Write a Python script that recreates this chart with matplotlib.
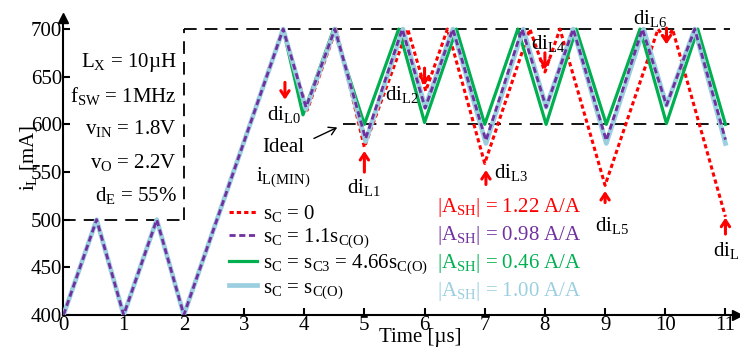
import numpy as np
import matplotlib.pyplot as plt

plt.rcParams['font.family'] = ['Liberation Serif', 'DejaVu Serif']
plt.rcParams['mathtext.fontset'] = 'custom'
plt.rcParams['mathtext.rm'] = 'Liberation Serif'
plt.rcParams['mathtext.it'] = 'Liberation Serif:italic'
fs = 15

# common start-up (all four cases identical up to the first 700 mA peak)
t_start = [0, 0.55, 1.0, 1.55, 2.0, 3.65]
i_start = [400, 500, 400, 500, 400, 700]

# s_C = 0
t_red = [4.05, 4.53, 5.0, 5.72, 6.02, 6.38, 7.0, 7.75, 8.0, 8.25, 9.0, 9.88, 10.02, 10.12, 11.0]
i_red = [615, 700, 576, 700, 635, 700, 559, 700, 655, 700, 536, 700, 688, 700, 503]

# s_C = 1.1 s_C(O)
t_pur = [4.03, 4.51, 5.02, 5.63, 6.01, 6.47, 7.02, 7.62, 8.02, 8.47, 9.02, 9.62, 10.02, 10.49, 11.0]
i_pur = [618, 700, 585, 700, 617, 700, 583, 700, 618, 700, 583, 700, 620, 700, 584]

# s_C = s_C3 = 4.66 s_C(O)
t_grn = [3.98, 4.49, 5.0, 5.57, 6.0, 6.53, 7.0, 7.55, 8.02, 8.52, 9.02, 9.58, 10.02, 10.54, 11.0]
i_grn = [610, 700, 600, 700, 602, 700, 600, 700, 600, 700, 600, 700, 601, 700, 600]

# s_C = s_C(O)
t_blu = [4.03, 4.51, 5.02, 5.64, 6.01, 6.47, 7.02, 7.64, 8.02, 8.47, 9.02, 9.64, 10.02, 10.49, 11.0]
i_blu = [616, 700, 582, 700, 618, 700, 580, 700, 618, 700, 580, 700, 620, 700, 580]

labels = ['s$_\\mathrm{C}$ = 0', 's$_\\mathrm{C}$ = 1.1s$_\\mathrm{C(O)}$',
          's$_\\mathrm{C}$ = s$_\\mathrm{C3}$ = 4.66s$_\\mathrm{C(O)}$', 's$_\\mathrm{C}$ = s$_\\mathrm{C(O)}$']
ash = ['1.22', '0.98', '0.46', '1.00']
cols = ['#ff0000', '#7030a0', '#00b050', '#9bcfe0']

params = ['L$_\\mathrm{X}$ = 10\u00b5H', 'f$_\\mathrm{SW}$ = 1MHz', 'v$_\\mathrm{IN}$ = 1.8V',
          'v$_\\mathrm{O}$ = 2.2V', 'd$_\\mathrm{E}$ = 55%']
param_y = [665, 630, 596, 560, 525]

# di_L markers: (x, tail, head), label position
di_x = [3.68, 5.0, 6.0, 7.02, 8.0, 9.0, 10.02, 11.0]
di_tail = [647, 547, 662, 534, 678, 515, 704, 482]
di_head = [623, 575, 638, 555, 655, 533, 681, 505]
di_tx = [3.66, 5.0, 5.62, 7.43, 8.05, 9.11, 9.74, 11.07]
di_ty = [610, 534, 631, 550, 685, 494, 711, 468]

# reference dashed lines
top_x = [2.0, 11.07]
min_x = [4.64, 11.12]
box_y = [500, 700]
box_x = [0, 2.0]

fig = plt.figure(figsize=(7.4, 3.54), dpi=100)
ax = fig.add_axes([0.0858, 0.1102, 0.9108, 0.840])

dk = dict(color='black', lw=1.3, dashes=(7, 4.5))
ax.plot(top_x, [700, 700], **dk)
ax.plot(min_x, [600, 600], **dk)
ax.plot([2.0, 2.0], box_y, **dk)
ax.plot(box_x, [500, 500], **dk)

h_red, = ax.plot(t_start + t_red, i_start + i_red, color=cols[0], lw=2.2, dashes=(1.4, 1.0), zorder=2)
h_grn, = ax.plot(t_start + t_grn, i_start + i_grn, color=cols[2], lw=2.3, zorder=3)
h_blu, = ax.plot(t_start + t_blu, i_start + i_blu, color=cols[3], lw=3.4, zorder=4)
h_pur, = ax.plot(t_start + t_pur, i_start + i_pur, color=cols[1], lw=2.0, dashes=(2.2, 1.3), zorder=5)

ax.legend([h_red, h_pur, h_grn, h_blu], labels, loc='upper left', bbox_to_anchor=(0.245, 0.376),
          frameon=False, borderpad=0, borderaxespad=0, handlelength=1.35, handletextpad=0.3,
          labelspacing=0.1, fontsize=fs)

for k in range(4):
    ax.text(6.2, 513 - k*29.6, '|A$_\\mathrm{SH}$| = ' + ash[k] + ' A/A', color=cols[k],
            ha='left', va='center', fontsize=fs)

for k in range(len(params)):
    ax.text(1.88, param_y[k], params[k], ha='right', va='center', fontsize=fs)

for k in range(len(di_x)):
    ax.annotate('', xy=(di_x[k], di_head[k]), xytext=(di_x[k], di_tail[k]),
                arrowprops=dict(arrowstyle='->,head_length=0.45,head_width=0.3', color='red', lw=2.2),
                zorder=6)
    ax.text(di_tx[k], di_ty[k], 'di$_\\mathrm{L%d}$' % k, ha='center', va='center', fontsize=fs,
            clip_on=False)

ax.text(3.65, 576, 'Ideal', ha='center', va='center', fontsize=fs)
ax.text(3.65, 545, 'i$_\\mathrm{L(MIN)}$', ha='center', va='center', fontsize=fs)
ax.annotate('', xy=(4.59, 598), xytext=(4.12, 584),
            arrowprops=dict(arrowstyle='->,head_length=0.5,head_width=0.3', color='black', lw=1.0))

ax.set_xlim(0, 11.2)
ax.set_ylim(400, 712)
ax.set_xticks(range(0, 12))
ax.set_yticks(range(400, 701, 50))
ax.tick_params(direction='in', length=5, width=1.5, pad=1, labelsize=fs)
ax.spines['top'].set_visible(False)
ax.spines['right'].set_visible(False)
ax.spines['left'].set_linewidth(1.5)
ax.spines['bottom'].set_linewidth(1.5)
ax.plot(1, 0, '>k', ms=7, transform=ax.transAxes, clip_on=False)
ax.plot(0, 1, '^k', ms=7, transform=ax.transAxes, clip_on=False)

ax.text(-0.052, 0.528, 'i$_\\mathrm{L}$ [mA]', rotation=90, ha='center', va='center',
        transform=ax.transAxes, fontsize=fs)
ax.text(0.529, -0.077, 'Time [\u00b5s]', ha='center', va='center', transform=ax.transAxes, fontsize=fs)

plt.savefig('out.png', dpi=100)
